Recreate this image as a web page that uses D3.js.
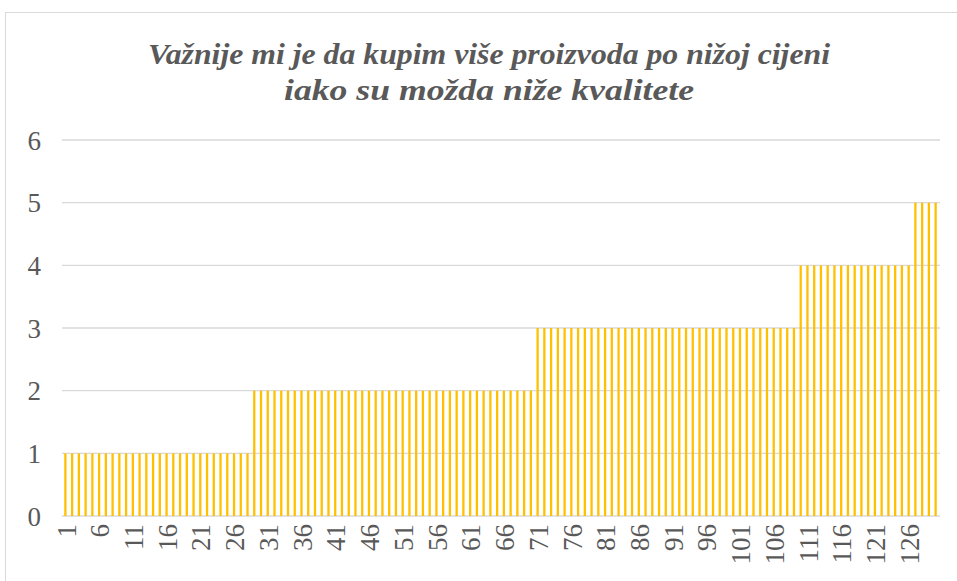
<!DOCTYPE html>
<html><head><meta charset="utf-8">
<script src="https://cdn.jsdelivr.net/npm/d3@7"></script>
<style>body{margin:0;background:#fff}svg{display:block}</style>
</head><body>
<script>
const titleLines = ["Važnije mi je da kupim više proizvoda po nižoj cijeni", "iako su možda niže kvalitete"];
// 130 respondents (categories 1..130), value counts
const categories = d3.range(1, 131).map(String);
const values = [
  1,1,1,1,1,1,1,1,1,1, 1,1,1,1,1,1,1,1,1,1, 1,1,1,1,1,1,1,1,
  2,2,2,2,2,2,2,2,2,2, 2,2,2,2,2,2,2,2,2,2, 2,2,2,2,2,2,2,2,2,2, 2,2,2,2,2,2,2,2,2,2, 2,2,
  3,3,3,3,3,3,3,3,3,3, 3,3,3,3,3,3,3,3,3,3, 3,3,3,3,3,3,3,3,3,3, 3,3,3,3,3,3,3,3,3,
  4,4,4,4,4,4,4,4,4,4, 4,4,4,4,4,4,4,
  5,5,5,5
];
const yTicks = [0,1,2,3,4,5,6];
const xTickLabels = categories.filter((c,i)=> i % 5 === 0);
const FONT = '"Times New Roman"';

const W = 957, H = 581;
const svg = d3.select("body").append("svg").attr("width", W).attr("height", H);
svg.append("rect").attr("x",5.5).attr("y",12.5).attr("width",W).attr("height",H)
  .attr("fill","#fff").attr("stroke","#d9d9d9").attr("stroke-width",1);

const x = d3.scaleBand().domain(categories).range([62, 939]).paddingInner(0.66).paddingOuter(0.33);
const y = d3.scaleLinear().domain([0, 6]).range([516, 140]);

// gridlines
svg.append("g").selectAll("line").data(yTicks).join("line")
  .attr("x1", 62).attr("x2", 940)
  .attr("y1", d => y(d)).attr("y2", d => y(d))
  .attr("stroke", "#d9d9d9").attr("stroke-width", 1.3);

// bars
svg.append("g").selectAll("rect").data(values).join("rect")
  .attr("x", (d,i) => x(categories[i]))
  .attr("width", x.bandwidth())
  .attr("y", d => y(d))
  .attr("height", d => y(0) - y(d))
  .attr("fill", "#FFC000");

// y axis labels
const yAxis = d3.axisLeft(y).tickValues(yTicks).tickFormat(d3.format("d")).tickSize(0).tickPadding(0);
const gy = svg.append("g").attr("transform", "translate(41,0)").call(yAxis);
gy.select(".domain").remove();
gy.selectAll("text").style("font-family", FONT).style("font-size", "27px")
  .attr("fill", "#595959").attr("dy", "0.34em");

// x axis labels
const xAxis = d3.axisBottom(x).tickValues(xTickLabels).tickSize(0).tickPadding(0);
const gx = svg.append("g").attr("transform", "translate(0,516)").call(xAxis);
gx.select(".domain").remove();
gx.selectAll("text")
  .style("font-family", FONT).style("font-size", "27px").attr("fill", "#595959")
  .attr("text-anchor", "end").attr("dy", "0.34em")
  .attr("transform", "translate(1,8) rotate(-90)").attr("x", 0).attr("y", 0);

// title
const tl = [{t: titleLines[0], y: 64, w: 682}, {t: titleLines[1], y: 100, w: 410}];
svg.append("g").selectAll("text").data(tl).join("text")
  .attr("x", 489).attr("y", d => d.y)
  .attr("text-anchor", "middle")
  .style("font-family", FONT).style("font-style", "italic").style("font-weight", "bold")
  .style("font-size", "30px").attr("fill", "#595959")
  .attr("textLength", d => d.w).attr("lengthAdjust", "spacingAndGlyphs")
  .text(d => d.t);
</script>
</body></html>
